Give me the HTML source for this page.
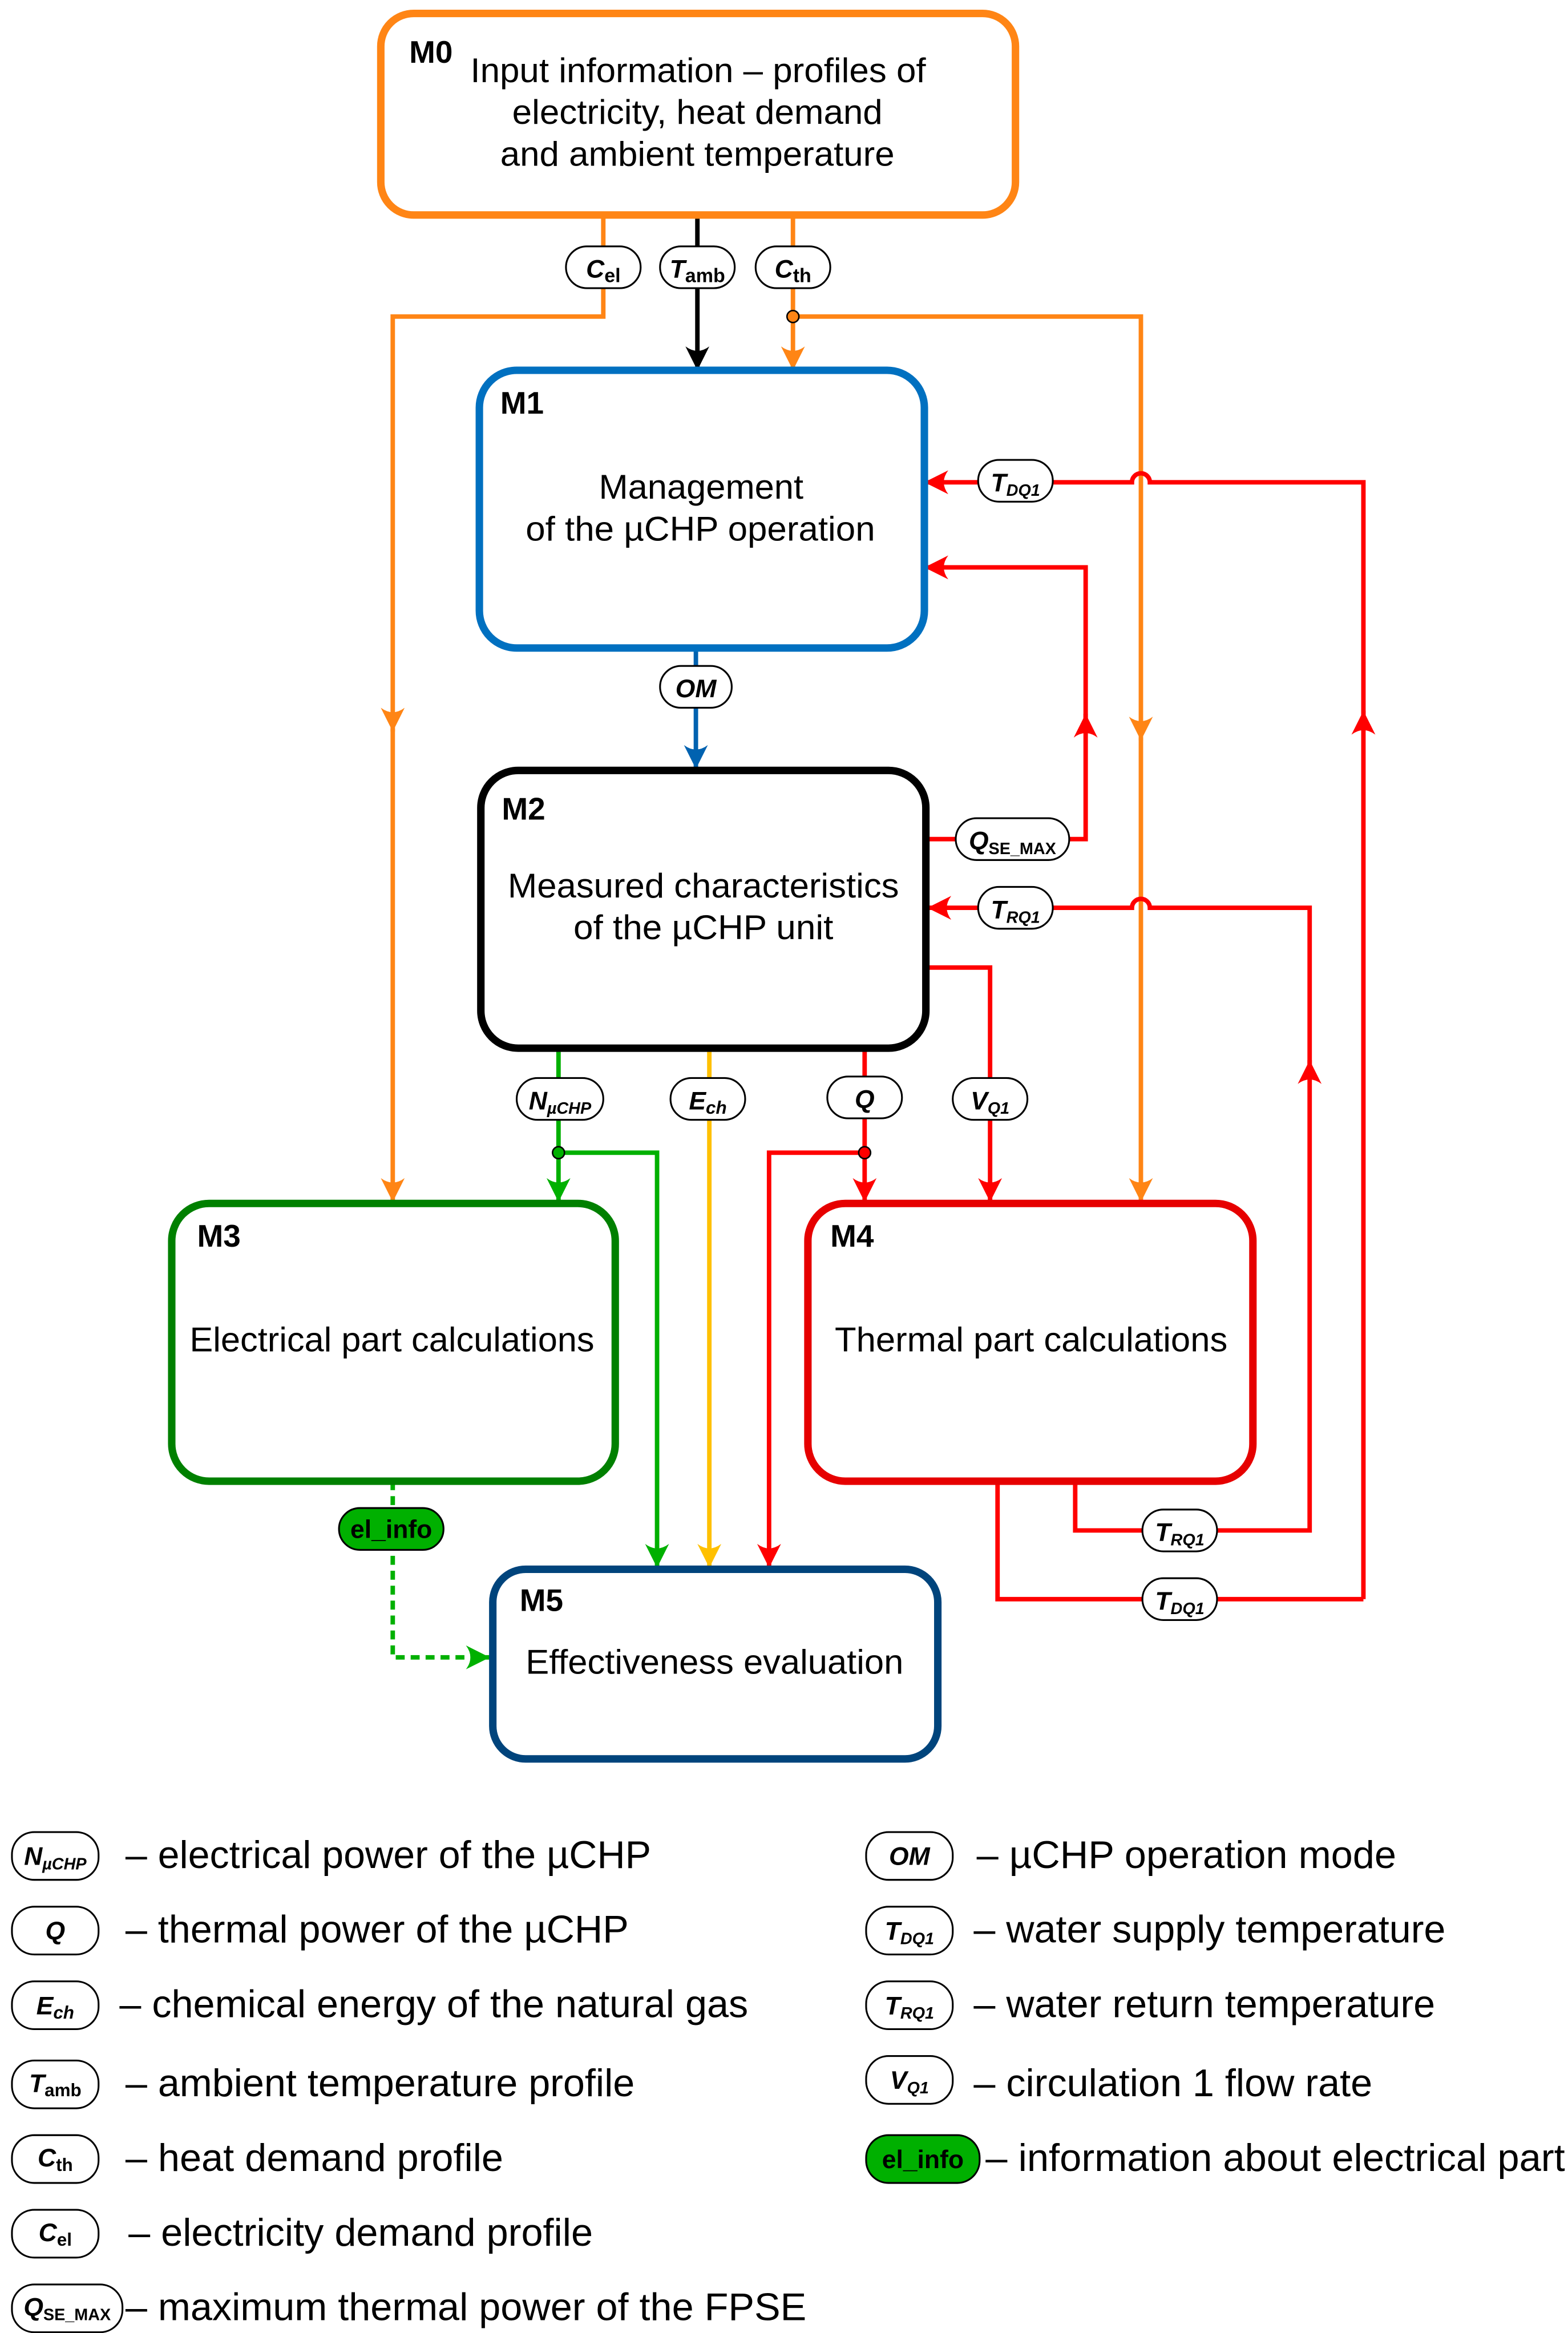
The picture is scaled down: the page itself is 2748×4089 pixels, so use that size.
<!DOCTYPE html>
<html><head><meta charset="utf-8"><style>
html,body{margin:0;padding:0;background:#fff}
svg{display:block}
text{font-family:"Liberation Sans",Arial,sans-serif}
.bt{font-size:23px;fill:#000}
.mt{font-size:21px;font-weight:bold;fill:#000}
.pl{font-size:17px;font-weight:bold;font-style:italic;fill:#000}
.lg{font-size:26px;fill:#000}
.pill{fill:#fff;stroke:#000;stroke-width:1.2}
</style></head><body>
<svg width="2748" height="4089" viewBox="0 0 1050 1562.5" preserveAspectRatio="none" xmlns="http://www.w3.org/2000/svg">
<defs>
<marker id="aO" markerUnits="userSpaceOnUse" viewBox="0 0 16 16" refX="16" refY="8" markerWidth="16" markerHeight="16" orient="auto"><path d="M16,8 L0,0 Q6,8 0,16 z" fill="#FF8515"/></marker>
<marker id="aK" markerUnits="userSpaceOnUse" viewBox="0 0 16 16" refX="16" refY="8" markerWidth="16" markerHeight="16" orient="auto"><path d="M16,8 L0,0 Q6,8 0,16 z" fill="#000"/></marker>
<marker id="aR" markerUnits="userSpaceOnUse" viewBox="0 0 16 16" refX="16" refY="8" markerWidth="16" markerHeight="16" orient="auto"><path d="M16,8 L0,0 Q6,8 0,16 z" fill="#FF0000"/></marker>
<marker id="aB" markerUnits="userSpaceOnUse" viewBox="0 0 16 16" refX="16" refY="8" markerWidth="16" markerHeight="16" orient="auto"><path d="M16,8 L0,0 Q6,8 0,16 z" fill="#0062B0"/></marker>
<marker id="aG" markerUnits="userSpaceOnUse" viewBox="0 0 16 16" refX="16" refY="8" markerWidth="16" markerHeight="16" orient="auto"><path d="M16,8 L0,0 Q6,8 0,16 z" fill="#00B000"/></marker>
<marker id="aY" markerUnits="userSpaceOnUse" viewBox="0 0 16 16" refX="16" refY="8" markerWidth="16" markerHeight="16" orient="auto"><path d="M16,8 L0,0 Q6,8 0,16 z" fill="#FFC000"/></marker>
</defs>
<g fill="none" stroke-width="3">
<path d="M404,144 V212 H263 V490" stroke="#FF8515" marker-end="url(#aO)"/>
<path d="M263,488 V805" stroke="#FF8515" marker-end="url(#aO)"/>
<path d="M531,144 V248" stroke="#FF8515" marker-end="url(#aO)"/>
<path d="M531,212 H764 V496" stroke="#FF8515" marker-end="url(#aO)"/>
<path d="M764,494 V805" stroke="#FF8515" marker-end="url(#aO)"/>
<path d="M467,144 V248" stroke="#000" marker-end="url(#aK)"/>
<path d="M466,434 V515" stroke="#0062B0" marker-end="url(#aB)"/>
<path d="M913,1071 V476" stroke="#FF0000" marker-end="url(#aR)"/>
<path d="M913,480 V323 H770 a6,6 0 0 0 -12,0 H619" stroke="#FF0000" marker-end="url(#aR)"/>
<path d="M621,562 H727 V478" stroke="#FF0000" marker-end="url(#aR)"/>
<path d="M727,482 V380 H619" stroke="#FF0000" marker-end="url(#aR)"/>
<path d="M720,992 V1025 H877 V710" stroke="#FF0000" marker-end="url(#aR)"/>
<path d="M877,714 V608 H770 a6,6 0 0 0 -12,0 H621" stroke="#FF0000" marker-end="url(#aR)"/>
<path d="M668,992 V1071 H913" stroke="#FF0000"/>
<path d="M620,648 H663 V805" stroke="#FF0000" marker-end="url(#aR)"/>
<path d="M579,702 V805" stroke="#FF0000" marker-end="url(#aR)"/>
<path d="M579,772 H515 V1050" stroke="#FF0000" marker-end="url(#aR)"/>
<path d="M374,702 V805" stroke="#00B000" marker-end="url(#aG)"/>
<path d="M374,772 H440 V1050" stroke="#00B000" marker-end="url(#aG)"/>
<path d="M263,992 V1110 H328" stroke="#00B000" stroke-dasharray="6,4" marker-end="url(#aG)"/>
<path d="M475,702 V1050" stroke="#FFC000" marker-end="url(#aY)"/>
</g>
<circle cx="531" cy="212" r="4" fill="#FF8515" stroke="#000" stroke-width="1"/>
<circle cx="374" cy="772" r="4" fill="#00B000" stroke="#000" stroke-width="1"/>
<circle cx="579" cy="772" r="4" fill="#FF0000" stroke="#000" stroke-width="1"/>

<g fill="#fff" stroke-width="5">
<rect x="255" y="9" width="425" height="135" rx="22" stroke="#FF8515"/>
<rect x="321" y="248" width="298" height="186" rx="25" stroke="#0070C0"/>
<rect x="322" y="516" width="298" height="186" rx="25" stroke="#000"/>
<rect x="115" y="806" width="297" height="186" rx="25" stroke="#008000"/>
<rect x="541" y="806" width="298" height="186" rx="25" stroke="#E60000"/>
<rect x="330" y="1051" width="298" height="127" rx="22" stroke="#00447C"/>
</g>
<text class="mt" x="274" y="42">M0</text>
<text class="bt" x="315" y="55" textLength="305" lengthAdjust="spacingAndGlyphs">Input information – profiles of</text>
<text class="bt" x="343" y="83" textLength="248" lengthAdjust="spacingAndGlyphs">electricity, heat demand</text>
<text class="bt" x="335" y="111" textLength="264" lengthAdjust="spacingAndGlyphs">and ambient temperature</text>
<text class="mt" x="335" y="277">M1</text>
<text class="bt" x="401" y="334" textLength="137" lengthAdjust="spacingAndGlyphs">Management</text>
<text class="bt" x="352" y="362" textLength="234" lengthAdjust="spacingAndGlyphs">of the µCHP operation</text>
<text class="mt" x="336" y="549">M2</text>
<text class="bt" x="340" y="601" textLength="262" lengthAdjust="spacingAndGlyphs">Measured characteristics</text>
<text class="bt" x="384" y="629" textLength="174" lengthAdjust="spacingAndGlyphs">of the µCHP unit</text>
<text class="mt" x="132" y="835">M3</text>
<text class="bt" x="127" y="905" textLength="271" lengthAdjust="spacingAndGlyphs">Electrical part calculations</text>
<text class="mt" x="556" y="835">M4</text>
<text class="bt" x="559" y="905" textLength="263" lengthAdjust="spacingAndGlyphs">Thermal part calculations</text>
<text class="mt" x="348" y="1079">M5</text>
<text class="bt" x="352" y="1121" textLength="253" lengthAdjust="spacingAndGlyphs">Effectiveness evaluation</text>

<g>
<rect class="pill" x="379" y="165" width="50" height="28" rx="14"/><text class="pl" x="404" y="186" text-anchor="middle">C<tspan font-size="13" font-style="normal" dy="3">el</tspan></text>
<rect class="pill" x="442" y="165" width="50" height="28" rx="14"/><text class="pl" x="467" y="186" text-anchor="middle">T<tspan font-size="13" font-style="normal" dy="3">amb</tspan></text>
<rect class="pill" x="506" y="165" width="50" height="28" rx="14"/><text class="pl" x="531" y="186" text-anchor="middle">C<tspan font-size="13" font-style="normal" dy="3">th</tspan></text>
<rect class="pill" x="442" y="446" width="48" height="28" rx="14"/><text class="pl" x="466" y="467" text-anchor="middle">OM</text>
<rect class="pill" x="655" y="308" width="50" height="28" rx="14"/><text class="pl" x="680" y="329" text-anchor="middle">T<tspan font-size="11" dy="3">DQ1</tspan></text>
<rect class="pill" x="640" y="548" width="76" height="28" rx="14"/><text class="pl" x="678" y="569" text-anchor="middle">Q<tspan font-size="11" font-style="normal" dy="3">SE_MAX</tspan></text>
<rect class="pill" x="655" y="594" width="50" height="28" rx="14"/><text class="pl" x="680" y="615" text-anchor="middle">T<tspan font-size="11" dy="3">RQ1</tspan></text>
<rect class="pill" x="346" y="722" width="58" height="28" rx="14"/><text class="pl" x="375" y="743" text-anchor="middle">N<tspan font-size="11" dy="3">µCHP</tspan></text>
<rect class="pill" x="449" y="722" width="50" height="28" rx="14"/><text class="pl" x="474" y="743" text-anchor="middle">E<tspan font-size="12" dy="3">ch</tspan></text>
<rect class="pill" x="554" y="721" width="50" height="28" rx="14"/><text class="pl" x="579" y="742" text-anchor="middle">Q</text>
<rect class="pill" x="638" y="722" width="50" height="28" rx="14"/><text class="pl" x="663" y="743" text-anchor="middle">V<tspan font-size="11" dy="3">Q1</tspan></text>
<rect x="227" y="1010" width="70" height="28" rx="14" fill="#00B000" stroke="#000" stroke-width="1.2"/><text x="262" y="1030" text-anchor="middle" font-size="17" font-weight="bold" fill="#000">el_info</text>
<rect class="pill" x="765" y="1011" width="50" height="28" rx="14"/><text class="pl" x="790" y="1032" text-anchor="middle">T<tspan font-size="11" dy="3">RQ1</tspan></text>
<rect class="pill" x="765" y="1057" width="50" height="28" rx="14"/><text class="pl" x="790" y="1078" text-anchor="middle">T<tspan font-size="11" dy="3">DQ1</tspan></text>
</g>

<g>
<rect class="pill" x="8" y="1227" width="58" height="32" rx="15"/><text class="pl" x="37" y="1249" text-anchor="middle">N<tspan font-size="11" dy="3">µCHP</tspan></text>
<text class="lg" x="84" y="1251" textLength="352" lengthAdjust="spacingAndGlyphs">– electrical power of the µCHP</text>
<rect class="pill" x="8" y="1277" width="58" height="32" rx="15"/><text class="pl" x="37" y="1299" text-anchor="middle">Q</text>
<text class="lg" x="84" y="1301" textLength="337" lengthAdjust="spacingAndGlyphs">– thermal power of the µCHP</text>
<rect class="pill" x="8" y="1327" width="58" height="32" rx="15"/><text class="pl" x="37" y="1349" text-anchor="middle">E<tspan font-size="12" dy="3">ch</tspan></text>
<text class="lg" x="80" y="1351" textLength="421" lengthAdjust="spacingAndGlyphs">– chemical energy of the natural gas</text>
<rect class="pill" x="8" y="1380" width="58" height="32" rx="15"/><text class="pl" x="37" y="1401" text-anchor="middle">T<tspan font-size="12" font-style="normal" dy="3">amb</tspan></text>
<text class="lg" x="84" y="1404" textLength="341" lengthAdjust="spacingAndGlyphs">– ambient temperature profile</text>
<rect class="pill" x="8" y="1430" width="58" height="32" rx="15"/><text class="pl" x="37" y="1451" text-anchor="middle">C<tspan font-size="12" font-style="normal" dy="3">th</tspan></text>
<text class="lg" x="84" y="1454" textLength="253" lengthAdjust="spacingAndGlyphs">– heat demand profile</text>
<rect class="pill" x="8" y="1480" width="58" height="32" rx="15"/><text class="pl" x="37" y="1501" text-anchor="middle">C<tspan font-size="12" font-style="normal" dy="3">el</tspan></text>
<text class="lg" x="86" y="1504" textLength="311" lengthAdjust="spacingAndGlyphs">– electricity demand profile</text>
<rect class="pill" x="8" y="1530" width="74" height="32" rx="15"/><text class="pl" x="45" y="1551" text-anchor="middle">Q<tspan font-size="11" font-style="normal" dy="3">SE_MAX</tspan></text>
<text class="lg" x="84" y="1554" textLength="456" lengthAdjust="spacingAndGlyphs">– maximum thermal power of the FPSE</text>

<rect class="pill" x="580" y="1227" width="58" height="32" rx="15"/><text class="pl" x="609" y="1249" text-anchor="middle">OM</text>
<text class="lg" x="654" y="1251" textLength="281" lengthAdjust="spacingAndGlyphs">– µCHP operation mode</text>
<rect class="pill" x="580" y="1277" width="58" height="32" rx="15"/><text class="pl" x="609" y="1299" text-anchor="middle">T<tspan font-size="11" dy="3">DQ1</tspan></text>
<text class="lg" x="652" y="1301" textLength="316" lengthAdjust="spacingAndGlyphs">– water supply temperature</text>
<rect class="pill" x="580" y="1327" width="58" height="32" rx="15"/><text class="pl" x="609" y="1349" text-anchor="middle">T<tspan font-size="11" dy="3">RQ1</tspan></text>
<text class="lg" x="652" y="1351" textLength="309" lengthAdjust="spacingAndGlyphs">– water return temperature</text>
<rect class="pill" x="580" y="1377" width="58" height="32" rx="15"/><text class="pl" x="609" y="1399" text-anchor="middle">V<tspan font-size="11" dy="3">Q1</tspan></text>
<text class="lg" x="652" y="1404" textLength="267" lengthAdjust="spacingAndGlyphs">– circulation 1 flow rate</text>
<rect x="580" y="1430" width="76" height="32" rx="15" fill="#00B000" stroke="#000" stroke-width="1.2"/><text x="618" y="1452" text-anchor="middle" font-size="17" font-weight="bold" fill="#000">el_info</text>
<text class="lg" x="660" y="1454" textLength="388" lengthAdjust="spacingAndGlyphs">– information about electrical part</text>
</g>
</svg>
</body></html>
